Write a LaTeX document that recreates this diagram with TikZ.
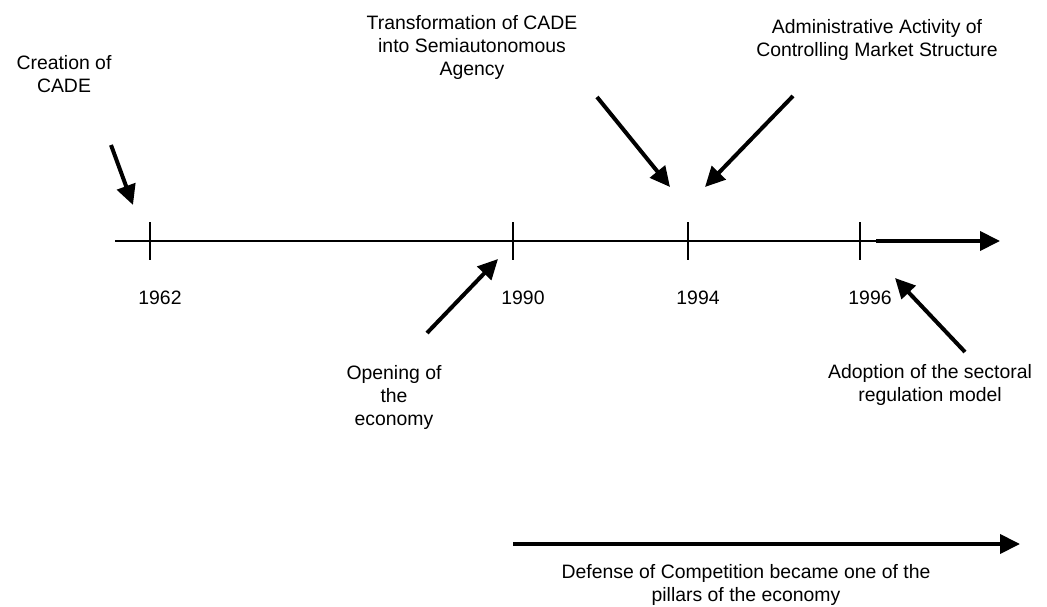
\documentclass[tikz,border=0pt]{standalone}
\usepackage{fontspec}
\setmainfont{Liberation Sans}
\usetikzlibrary{arrows.meta}
\tikzset{
	label text/.style={font=\fontsize{19.4}{23}\selectfont, align=center, inner sep=0pt},
	pointer/.style={line width=4pt, -{Triangle[length=20pt,width=19pt]}},
	yeartick/.style={line width=2pt}
}
\begin{document}
\begin{tikzpicture}[x=1pt,y=-1pt]
	\useasboundingbox (0,0) rectangle (1047,607);
	% time axis
	\coordinate (axstart) at (115,241);
	\coordinate (t1962) at (150,241);
	\coordinate (t1990) at (513,241);
	\coordinate (t1994) at (688,241);
	\coordinate (t1996) at (860,241);
	\coordinate (axthick) at (876,241);
	\coordinate (axend) at (1000,241);
	\draw [line width=2pt] (axstart) -- (axthick);
	\draw [pointer] (axthick) -- (axend);
	\foreach \yr in {1962,1990,1994,1996} {
		\draw [yeartick] (t\yr) ++(0,-19) -- ++(0,38);
		\node [label text] (y\yr) at ([xshift=10pt,yshift=-57pt]t\yr) {\yr};
	}
	% events above
	\node [label text] (creation) at (64,74) {Creation of\\CADE};
	\coordinate (creafrom) at (111,145);
	\coordinate (creato) at (133,205);
	\draw [pointer] (creafrom) -- (creato);
	\node [label text] (transf) at (472,47) {Transformation of CADE\\into Semiautonomous\\Agency};
	\coordinate (transfrom) at (597,97);
	\coordinate (transto) at (670,187);
	\draw [pointer] (transfrom) -- (transto);
	\node [label text] (admin) at (877,40) {Administrative Activity of\\Controlling Market Structure};
	\coordinate (adminfrom) at (793,96);
	\coordinate (adminto) at (705,187);
	\draw [pointer] (adminfrom) -- (adminto);
	% events below
	\node [label text] (opening) at (394,397) {Opening of\\the\\economy};
	\coordinate (openfrom) at (427,333);
	\coordinate (opento) at (498,259);
	\draw [pointer] (openfrom) -- (opento);
	\node [label text] (adoption) at (930,385) {Adoption of the sectoral\\regulation model};
	\coordinate (adoptfrom) at (965,352);
	\coordinate (adoptto) at (895,278);
	\draw [pointer] (adoptfrom) -- (adoptto);
	% competition period
	\coordinate (compfrom) at (513,544);
	\coordinate (compto) at (1020,544);
	\draw [pointer] (compfrom) -- (compto);
	\node [label text] (defense) at (746,585) {Defense of Competition became one of the\\pillars of the economy};
\end{tikzpicture}
\end{document}
